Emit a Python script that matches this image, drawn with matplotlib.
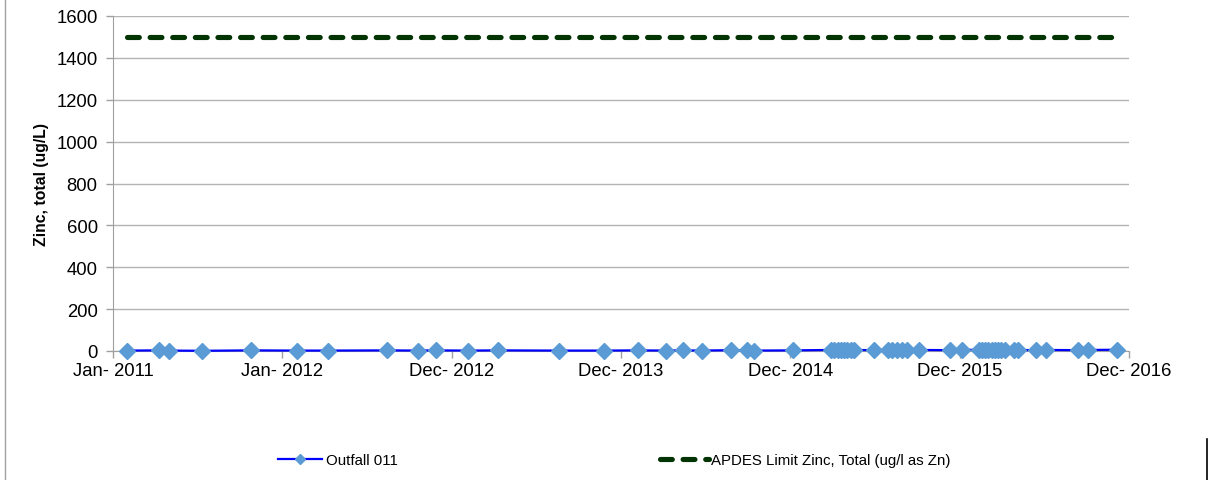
import matplotlib
matplotlib.use("Agg")
import matplotlib.pyplot as plt
import matplotlib.dates as mdates
from matplotlib.lines import Line2D
import numpy as np
import datetime as dt

# ---- data ----
sample_dates = [
    "2011-02-01", "2011-04-10", "2011-05-02", "2011-07-12", "2011-10-25",
    "2012-02-01", "2012-04-09", "2012-08-14", "2012-10-19", "2012-11-27",
    "2013-02-05", "2013-04-09", "2013-08-20", "2013-11-25",
    "2014-02-05", "2014-04-08", "2014-05-13", "2014-06-24", "2014-08-26",
    "2014-09-29", "2014-10-13",
    "2015-01-06", "2015-03-29", "2015-04-05", "2015-04-12", "2015-04-19",
    "2015-04-26", "2015-05-03", "2015-05-10", "2015-05-17", "2015-06-29",
    "2015-07-29", "2015-08-07", "2015-08-18", "2015-08-29", "2015-09-08",
    "2015-10-04", "2015-12-10",
    "2016-01-05", "2016-02-10", "2016-02-17", "2016-02-24", "2016-03-02",
    "2016-03-09", "2016-03-16", "2016-03-23", "2016-03-30", "2016-04-06",
    "2016-04-26", "2016-05-04", "2016-06-12", "2016-07-05", "2016-09-11",
    "2016-10-03", "2016-12-04",
]
zinc_values = [
    2, 3, 2, 1, 3,
    2, 2, 3, 2, 3,
    2, 3, 2, 2,
    3, 2, 3, 2, 4,
    3, 2,
    3, 5, 4, 6, 4,
    5, 3, 4, 5, 4,
    5, 4, 6, 5, 4,
    5, 4,
    6, 5, 4, 6, 5,
    4, 5, 6, 4, 5,
    6, 5, 4, 5, 4,
    5, 6,
]
limit_value = 1500  # APDES limit, ug/l

y_ticks = [0, 200, 400, 600, 800, 1000, 1200, 1400, 1600]
x_start = "2011-01-01"
x_tick_step_days = 365
n_x_ticks = 7

series_label = "Outfall 011"
limit_label = "APDES Limit Zinc, Total (ug/l as Zn)"
y_label = "Zinc, total (ug/L)"

# ---- figure ----
W, H = 1208, 481
fig = plt.figure(figsize=(W / 100, H / 100), dpi=100)
plt.rcParams['font.family'] = ['Liberation Sans', 'DejaVu Sans']

ax = fig.add_axes([113 / W, 1 - 352 / H, (1129 - 113) / W, (352 - 17) / H])

dates = [dt.datetime.strptime(d, "%Y-%m-%d") for d in sample_dates]
x0 = dt.datetime.strptime(x_start, "%Y-%m-%d")
xticks = [x0 + dt.timedelta(days=x_tick_step_days * k) for k in range(n_x_ticks)]

# limit line spanning the sampled period
ax.plot([dates[0], dates[-1]], [limit_value, limit_value], color="#023302",
        lw=3.7, linestyle=(0, (2.3, 2.1)), dash_capstyle="round", zorder=3)

ax.plot(dates, zinc_values, color="#0000FF", lw=1.6, marker="D",
        markersize=8, markerfacecolor="#5B9BD5", markeredgecolor="#5B9BD5",
        zorder=4, clip_on=False)

ax.set_xlim(xticks[0], xticks[-1])
ax.set_ylim(y_ticks[0], y_ticks[-1])
ax.set_yticks(y_ticks)
ax.set_xticks(xticks)
ax.set_xticklabels([t.strftime("%b- %Y") for t in xticks])

ax.grid(axis="y", color="#B3B3B3", lw=1)
ax.set_axisbelow(True)
for s in ["top", "right"]:
    ax.spines[s].set_visible(False)
ax.spines["left"].set_color("#A0A0A0")
ax.spines["bottom"].set_color("#A0A0A0")
ax.tick_params(axis="both", colors="#A0A0A0", labelcolor="black",
               labelsize=13.3, length=5, width=1)
ax.tick_params(axis="y", pad=6)
ax.tick_params(axis="x", pad=3)

ax.set_ylabel(y_label, fontsize=11.3, fontweight="bold", labelpad=5)

# legends
h1 = Line2D([], [], color="#0000FF", lw=1.6, marker="D", markersize=5,
            markerfacecolor="#5B9BD5", markeredgecolor="#5B9BD5")
h2 = Line2D([], [], color="#023302", lw=3.7, linestyle=(0, (2.3, 2.1)),
            dash_capstyle="round")
leg1 = fig.legend([h1], [series_label], loc="center left",
                  bbox_to_anchor=(278 / W, 1 - 461 / H), frameon=False,
                  borderaxespad=0, borderpad=0,
                  fontsize=10.8, handlelength=2.9, handletextpad=0.33)
leg2 = fig.legend([h2], [limit_label], loc="center left",
                  bbox_to_anchor=(660 / W, 1 - 461 / H), frameon=False,
                  borderaxespad=0, borderpad=0,
                  fontsize=10.8, handlelength=3.25, handletextpad=0.14)

# chart-area border pieces
fig.add_artist(Line2D([5 / W, 5 / W], [0, 1], color="#A0A0A0", lw=1,
                      transform=fig.transFigure))
fig.add_artist(Line2D([1206.5 / W, 1206.5 / W], [0, 1 - 440 / H], color="black",
                      lw=1.2, transform=fig.transFigure))

fig.savefig("out.png", dpi=100)
